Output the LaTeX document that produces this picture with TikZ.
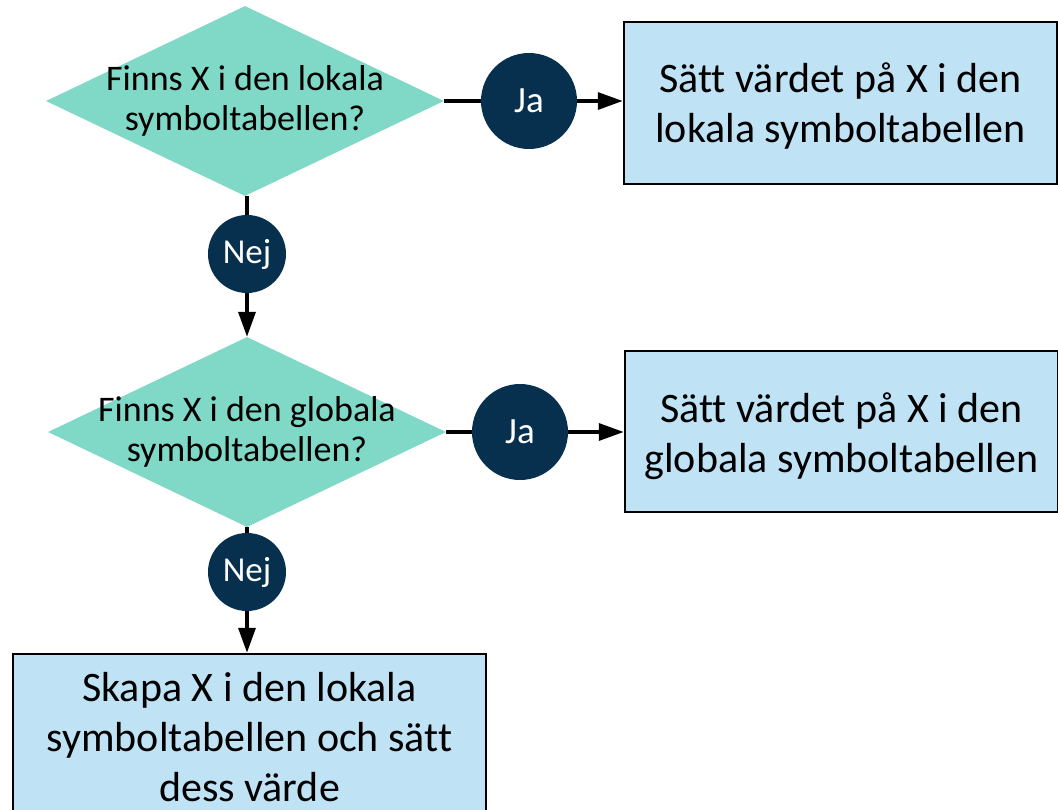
\documentclass[tikz,border=0pt]{standalone}
\usepackage{fontspec}
\setmainfont[Ligatures=NoCommon]{Carlito}
\usetikzlibrary{arrows.meta,shapes.geometric}
\definecolor{dia}{HTML}{80D8C6}
\definecolor{navy}{HTML}{06304D}
\definecolor{boxc}{HTML}{BFE2F5}
\begin{document}
\begin{tikzpicture}[x=1pt,y=-1pt,
  question/.style={diamond, fill=dia, minimum width=398pt, minimum height=190pt, inner sep=0pt},
  qtext/.style={align=center, inner sep=0pt, font=\fontsize{36}{40}\selectfont},
  bigdot/.style={circle, fill=navy, minimum size=96pt, inner sep=0pt, text=white, font=\fontsize{37}{40}\selectfont},
  smalldot/.style={circle, fill=navy, minimum size=78pt, inner sep=0pt, text=white, font=\fontsize{35}{40}\selectfont},
  actbox/.style={draw=black, line width=2.5pt, fill=boxc, inner sep=0pt},
  boxtext/.style={align=center, inner sep=0pt, font=\fontsize{42}{50}\selectfont},
  conn/.style={line width=3.5pt, draw=black},
  arr/.style={conn, -{Triangle[length=25pt,width=17pt]}}
]
\useasboundingbox (0,0) rectangle (1058,810);

\node[question] (q1) at (245,101) {};
\node[qtext] (q1t) at (q1) {Finns X i den lokala\\symboltabellen?};
\node[question] (q2) at (247,432) {};
\node[qtext] (q2t) at (q2) {Finns X i den globala\\symboltabellen?};

\node[bigdot] (ja1) at (529,101) {Ja};
\node[bigdot] (ja2) at (520,432) {Ja};
\node[smalldot] (nej1) at (247,254) {Nej};
\node[smalldot] (nej2) at (247,572) {Nej};

\node[actbox, minimum width=433pt, minimum height=162pt] (b1) at (840.5,103) {};
\node[boxtext] (b1t) at ([yshift=-3pt]b1.center) {Sätt värdet på X i den\\lokala symboltabellen};
\node[actbox, minimum width=433pt, minimum height=161pt] (b2) at (841.5,431.5) {};
\node[boxtext] (b2t) at ([yshift=-5pt]b2.center) {Sätt värdet på X i den\\globala symboltabellen};
\node[actbox, minimum width=473pt, minimum height=164pt] (b3) at (249.5,736) {};
\node[boxtext] (b3t) at ([yshift=-1pt]b3.center) {Skapa X i den lokala\\symboltabellen och sätt\\dess värde};

\draw[conn] (q1.east) -- (ja1.west);
\draw[arr] (ja1.east) -- (ja1.east -| b1.west);
\draw[conn] (q2.east) -- (ja2.west);
\draw[arr] (ja2.east) -- (ja2.east -| b2.west);
\draw[conn] (nej1 |- q1.south) -- (nej1.north);
\draw[arr] (nej1.south) -- (q2.north);
\draw[conn] (q2.south) -- (nej2.north);
\draw[arr] (nej2.south) -- (nej2.south |- b3.north);
\end{tikzpicture}
\end{document}
